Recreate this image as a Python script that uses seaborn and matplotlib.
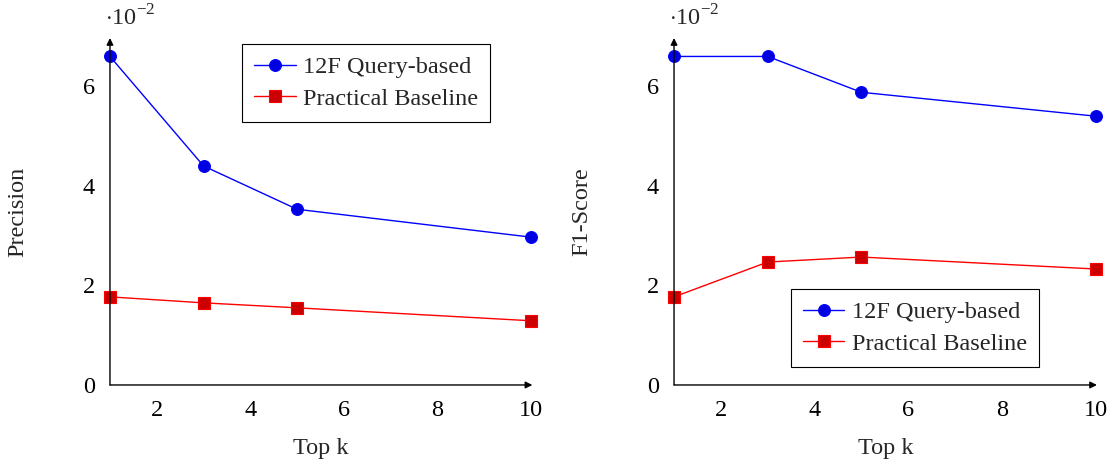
import matplotlib
matplotlib.use("Agg")
import matplotlib.pyplot as plt
import seaborn as sns
import pandas as pd

sns.set_theme(style="white")
plt.rcParams['font.family'] = ['Liberation Serif', 'DejaVu Serif']
plt.rcParams['mathtext.fontset'] = 'custom'
plt.rcParams['mathtext.rm'] = 'Liberation Serif'

top_k = [1, 3, 5, 10]
series_names = ["12F Query-based", "Practical Baseline"]
precision_query = [6.6, 4.40, 3.53, 2.97]
precision_base = [1.77, 1.65, 1.55, 1.29]
f1_query = [6.6, 6.6, 5.88, 5.40]
f1_base = [1.77, 2.47, 2.57, 2.33]
x_ticks = [2, 4, 6, 8, 10]
y_ticks = [0, 2, 4, 6]

def make_df(q, b):
    return pd.DataFrame({
        "k": top_k * 2,
        "value": q + b,
        "series": [series_names[0]] * len(top_k) + [series_names[1]] * len(top_k),
    })

fig = plt.figure(figsize=(11.13, 4.62), dpi=100)
ax1 = fig.add_axes([0.0988, 0.1667, 0.3795, 0.751])
ax2 = fig.add_axes([0.6056, 0.1667, 0.3800, 0.751])

palette = {series_names[0]: "#0000ff", series_names[1]: "#ff0000"}
markers = {series_names[0]: "o", series_names[1]: "s"}

FS = 17.5

for ax, (q, b), ylabel, loc, anchor in [
    (ax1, (precision_query, precision_base), "Precision", "upper right", (0.9005, 0.983)),
    (ax2, (f1_query, f1_base), "F1-Score", "lower right", (0.863, 0.052)),
]:
    df = make_df(q, b)
    sns.lineplot(data=df, x="k", y="value", hue="series", style="series",
                 markers=markers, dashes=False, palette=palette, ax=ax,
                 linewidth=1.0, markersize=8.5, legend=False, zorder=3)
    for line, fc in zip(ax.lines, ["#0000e0", "#cc0000"]):
        line.set_markerfacecolor(fc)
        line.set_markeredgecolor(line.get_color())
        line.set_markeredgewidth(0.8)
        line.set_clip_on(False)
    ax.set_xlim(1, 10.03)
    ax.set_ylim(0, 6.97)
    ax.set_xticks(x_ticks)
    ax.set_yticks(y_ticks)
    ax.set_xticklabels([str(t) for t in x_ticks], fontsize=FS)
    ax.set_yticklabels([str(t) for t in y_ticks], fontsize=FS)
    ax.tick_params(axis="both", direction="inout", length=6, width=0.8,
                   color="#777777", pad=8, labelcolor="black")
    for s in ["top", "right", "left", "bottom"]:
        ax.spines[s].set_visible(False)
    ax.annotate("", xy=(0, 1.0), xytext=(0, 0), xycoords="axes fraction",
                arrowprops=dict(arrowstyle="-|>", color="black", lw=1.0,
                                mutation_scale=10, shrinkA=0, shrinkB=0))
    ax.annotate("", xy=(1.0, 0), xytext=(0, 0), xycoords="axes fraction",
                arrowprops=dict(arrowstyle="-|>", color="black", lw=1.0,
                                mutation_scale=10, shrinkA=0, shrinkB=0))
    ax.set_xlabel("Top k", fontsize=FS)
    ax.set_ylabel(ylabel, fontsize=FS)
    ax.xaxis.set_label_coords(0.5, -0.152)
    ax.yaxis.set_label_coords(-0.194, 0.5)
    ax.text(-0.012, 1.035, r"$\cdot 10^{-2}$", transform=ax.transAxes,
            fontsize=FS, ha="left", va="baseline")
    h = ax.lines[:2]
    leg = ax.legend(h, series_names, loc=loc, bbox_to_anchor=anchor,
                    fontsize=FS, frameon=True,
                    fancybox=False, edgecolor="black", framealpha=1,
                    handlelength=1.7, borderaxespad=0.0, borderpad=0.5,
                    handletextpad=0.3, labelspacing=0.4)
    leg.get_frame().set_linewidth(0.8)
    ax.grid(False)

fig.savefig("out.png", dpi=100)
